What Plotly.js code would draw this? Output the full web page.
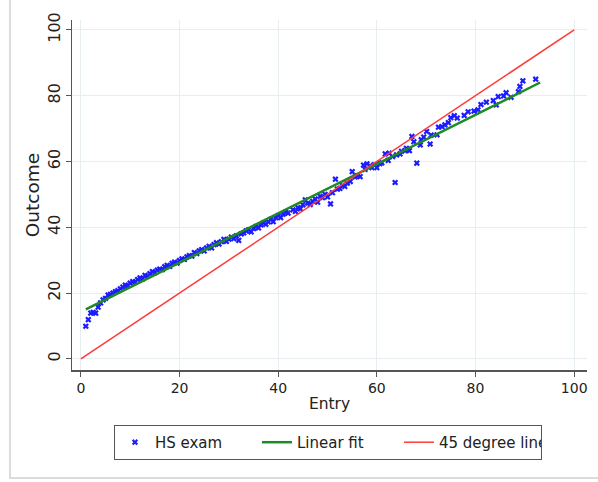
<!DOCTYPE html>
<html>
<head>
<meta charset="utf-8">
<script src="https://cdn.plot.ly/plotly-3.0.1.min.js"></script>
<style>
html,body{margin:0;padding:0;background:#fff;}
#wrap{position:relative;width:598px;height:482px;}
#chart{position:absolute;left:0;top:0;width:598px;height:482px;}
#frame{position:absolute;left:9px;top:0;width:589px;height:477px;border-left:2px solid #dcdcdc;border-bottom:2px solid #dcdcdc;pointer-events:none;}
</style>
</head>
<body>
<div id="wrap"><div id="chart"></div><div id="frame"></div></div>
<script>
// HS exam scatter (Entry vs Outcome)
const entry = [1.0,1.5,2.0,2.5,3.0,3.5,4.0,4.5,5.0,5.5,6.0,6.5,7.0,7.5,8.0,8.5,9.0,9.5,10.0,10.5,11.0,11.5,12.0,12.5,13.0,13.5,14.0,14.5,15.0,15.5,16.0,16.5,17.0,17.5,18.0,18.5,19.0,19.5,20.0,20.5,21.0,21.5,22.0,22.5,23.0,23.5,24.0,24.5,25.0,25.5,26.0,26.5,27.0,27.5,28.0,28.5,29.0,29.5,30.0,30.5,31.0,31.5,32.0,32.5,33.0,33.5,34.0,34.5,35.0,35.5,36.0,36.5,37.0,37.5,38.0,38.5,39.0,39.5,40.0,40.5,41.0,41.5,42.0,43.0,43.5,44.0,44.5,45.0,45.5,46.0,46.5,47.0,47.5,48.0,48.5,49.0,49.5,50.0,50.6,51.0,51.6,52.0,52.5,53.0,53.5,54.0,54.6,55.0,55.6,56.0,56.6,57.3,57.6,58.0,58.6,59.0,59.5,60.0,60.6,61.0,61.7,62.3,62.5,63.2,63.7,64.0,64.7,65.0,65.7,66.0,66.6,67.1,67.5,68.1,68.8,69.0,69.5,70.1,70.8,71.0,72.2,72.5,73.2,73.8,74.5,75.0,75.7,76.3,77.7,78.5,79.7,80.5,81.1,82.2,83.6,84.2,84.6,85.7,86.2,87.2,88.7,89.0,89.6,92.2,93.1];
const outcome = [9.9,11.9,13.9,14.1,13.9,15.7,17.0,17.9,18.4,19.4,19.6,20.0,20.4,20.7,21.3,21.8,22.4,22.2,23.0,23.5,23.3,24.1,24.6,24.3,25.4,25.1,25.9,26.5,26.2,27.0,27.3,27.1,28.0,28.4,28.1,29.0,29.4,29.1,29.9,30.4,30.2,31.0,31.4,31.2,32.3,32.0,32.8,33.2,32.8,33.7,34.2,33.7,34.7,35.3,34.9,35.6,36.3,35.7,36.4,37.0,36.5,37.4,36.0,38.0,38.3,38.9,39.2,38.6,39.6,40.2,39.8,40.7,41.3,40.9,41.6,42.4,41.7,42.9,43.5,42.9,44.0,44.6,44.3,45.3,44.8,46.0,45.6,46.8,48.3,47.3,46.9,47.9,48.6,47.6,49.4,49.0,50.0,49.2,47.1,50.5,54.6,51.6,51.8,52.7,52.4,53.4,53.9,56.9,55.3,55.6,55.4,58.9,57.6,59.3,58.7,58.1,59.0,58.1,59.3,59.6,62.3,60.3,62.5,61.5,53.6,62.0,62.3,63.1,63.3,64.0,63.3,67.6,66.0,59.5,65.0,66.6,67.4,69.1,65.3,68.0,68.1,70.4,70.6,71.1,71.8,73.3,73.9,73.2,74.0,75.1,75.3,75.7,77.3,78.0,78.5,77.2,79.7,79.9,80.9,79.5,81.2,82.8,84.5,85.0];

// Linear fit endpoints
const fitX = [1.0, 93.1];
const fitY = [15.0, 84.0];

// 45 degree line
const degX = [0, 100];
const degY = [0, 100];

const tickVals = [0, 20, 40, 60, 80, 100];

const xTickFont = {family: 'DejaVu Sans, sans-serif', size: 14, color: '#222'};
const yTickFont = {family: 'DejaVu Sans, sans-serif', size: 16, color: '#222'};
const xTitleFont = {family: 'DejaVu Sans, sans-serif', size: 15.5, color: '#222'};
const yTitleFont = {family: 'DejaVu Sans, sans-serif', size: 18.5, color: '#222'};
const legendFont = {family: 'DejaVu Sans, sans-serif', size: 15, color: '#222'};

const traces = [
  {x: entry, y: outcome, type: 'scatter', mode: 'markers', name: 'HS exam',
   marker: {symbol: 'x', size: 5.5, color: '#1c1cff', line: {width: 0}}},
  {x: fitX, y: fitY, type: 'scatter', mode: 'lines', name: 'Linear fit',
   line: {color: '#1f8a24', width: 2.5}},
  {x: degX, y: degY, type: 'scatter', mode: 'lines', name: '45 degree line',
   line: {color: '#ff3a3a', width: 1.5}}
];

const layout = {
  width: 598, height: 482,
  margin: {l: 72, r: 11, t: 20, b: 112},
  paper_bgcolor: 'rgba(0,0,0,0)', plot_bgcolor: '#fff',
  font: xTickFont,
  showlegend: true,
  legend: {orientation: 'h', x: 0.497, xanchor: 'center', y: -0.157, yanchor: 'top',
    bordercolor: '#555', borderwidth: 1, font: legendFont, bgcolor: '#fff', traceorder: 'normal',
    entrywidth: 97, entrywidthmode: 'pixels'},
  xaxis: {range: [-1.8, 102.6], tickvals: tickVals, ticks: 'outside', ticklen: 5,
    tickcolor: '#555', showline: true, linecolor: '#555', linewidth: 1.5,
    showgrid: true, gridcolor: '#e6eef0', gridwidth: 1, zeroline: false,
    title: {text: 'Entry', font: xTitleFont, standoff: 3}, tickfont: xTickFont},
  yaxis: {range: [-3.4, 103], tickvals: tickVals, ticks: 'outside', ticklen: 5,
    tickcolor: '#555', showline: true, linecolor: '#555', linewidth: 1.5,
    showgrid: true, gridcolor: '#e6eef0', gridwidth: 1, zeroline: false,
    tickangle: -90, ticklabelstandoff: -1,
    title: {text: 'Outcome', font: yTitleFont, standoff: 0}, tickfont: yTickFont}
};

Plotly.newPlot('chart', traces, layout, {displayModeBar: false, staticPlot: true});
</script>
</body>
</html>
